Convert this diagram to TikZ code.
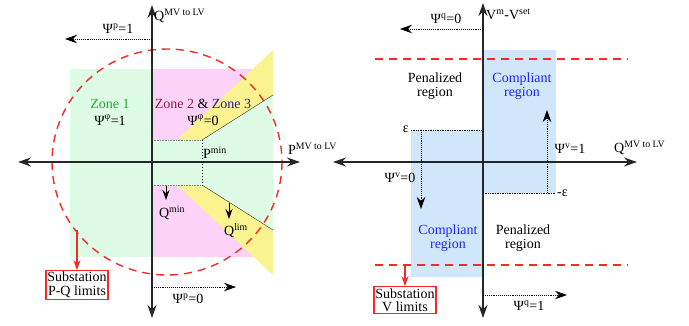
\documentclass[tikz,border=0pt]{standalone}
\usepackage{fontspec}
\setmainfont{Liberation Serif}
\usetikzlibrary{arrows.meta}
\definecolor{verde}{HTML}{DDFBE5}
\definecolor{rosa}{HTML}{FDD2F9}
\definecolor{amarillo}{HTML}{FBF290}
\definecolor{celeste}{HTML}{D0E7FB}
\definecolor{zonaverde}{HTML}{1FA82F}
\definecolor{zonarojo}{HTML}{8E1D45}
\definecolor{zonaazul}{HTML}{2B1B8F}
\definecolor{azulreg}{HTML}{2424F2}
\definecolor{rojolim}{HTML}{F22A2A}
\newcommand{\sps}[1]{\textsuperscript{#1}}

\begin{document}
\begin{tikzpicture}[x=1pt,y=-1pt,font=\fontsize{14}{14}\selectfont,
    axis/.style={line width=1.3pt,black!85,{Stealth[length=13pt,width=9pt]}-{Stealth[length=13pt,width=9pt]}},
    flag/.style={densely dotted,line width=0.9pt,-{Stealth[length=12pt,width=8.5pt]}},
    small/.style={line width=1pt,-{Stealth[length=10pt,width=7pt]}},
    lim/.style={rojolim,line width=1.4pt,dash pattern=on 8pt off 6pt},
    limbox/.style={draw=rojolim,line width=1.2pt,align=center,inner sep=1.5pt,font=\fontsize{14}{13.5}\selectfont},
    lbl/.style={align=center,inner sep=1pt,font=\fontsize{14}{14}\selectfont}]
  \useasboundingbox (0,0) rectangle (689,325);
  % left: P-Q plane
  \fill[verde] (70,69) rectangle (273,257);
  \fill[rosa] (152,69) rectangle (253,257);
  \fill[verde] (152,140) -- (202,140) -- (273,95) -- (273,230) -- (202,185) -- (152,185) -- cycle;
  \fill[amarillo] (177,140) -- (273,50) -- (273,95) -- (202,140) -- cycle;
  \fill[amarillo] (177,185) -- (202,185) -- (273,230) -- (273,275) -- cycle;
  \draw[black!50,densely dotted,line width=0.6pt] (152,140) -- (202,140) (152,185) -- (202,185);
  \draw[black!70,line width=0.5pt] (202,140) -- (273,95) (202,185) -- (273,230);
  \draw[dotted,line width=1pt] (202,140) -- (202,185);
  \draw[lim] (167,162) circle[x radius=115,y radius=113];
  \draw[axis] (18,162) -- (300,162);
  \draw[axis] (152,5) -- (152,318);
  \node[anchor=west,inner sep=0pt] (qaxis) at (154,16) {Q\sps{MV to LV}};
  \node[anchor=west,inner sep=0pt] (paxis) at (288,149) {P\sps{MV to LV}};
  \coordinate (pq1a) at (152,39);
  \coordinate (pq1b) at (65,39);
  \coordinate (pq0a) at (152,287);
  \coordinate (pq0b) at (236,287);
  \draw[flag] (pq1a) -- (pq1b);
  \draw[flag] (pq0a) -- (pq0b);
  \node (pq1) at (118,29) {Ψ\sps{p}=1};
  \node (pq0) at (188,299) {Ψ\sps{p}=0};
  \node[lbl] (zona1) at (110,112) {\textcolor{zonaverde}{Zone 1}\\[3pt]Ψ\sps{φ}=1};
  \node[lbl] (zona23) at (203,112) {\textcolor{zonarojo}{Zone 2} \& \textcolor{zonaazul}{Zone 3}\\[3pt]Ψ\sps{φ}=0};
  \node[anchor=west,inner sep=1pt] (pmin) at (202,153) {P\sps{min}};
  \coordinate (qmina) at (166,186);
  \coordinate (qlima) at (229,203);
  \node (qmin) at (172,213) {Q\sps{min}};
  \node (qlim) at (236,231) {Q\sps{lim}};
  \draw[small] (qmina) -- (166,200);
  \draw[small] (qlima) -- (229,219);
  \node[limbox] (pqbox) at (77,285) {Substation\\P-Q limits};
  \coordinate (pqcirc) at (77,230);
  \draw[rojolim,line width=1.1pt,-{Stealth[length=10pt,width=7pt]}] (pqcirc) -- (pqbox.north);
  % right: V-Q plane
  \fill[celeste] (483,50) rectangle (556,193);
  \fill[celeste] (411,130) rectangle (483,277);
  \draw[lim] (375,59) -- (628,59);
  \draw[lim] (375,265) -- (628,265);
  \draw[densely dotted,line width=0.7pt] (411,130) -- (483,130) (483,193) -- (556,193);
  \draw[axis] (333,162) -- (637,162);
  \draw[axis] (483,3) -- (483,318);
  \node[anchor=west,inner sep=0pt] (vaxis) at (486,14) {V\sps{m}-V\sps{set}};
  \node[anchor=west,inner sep=0pt] (qaxisr) at (614,148) {Q\sps{MV to LV}};
  \node[anchor=east,inner sep=1pt] (eps) at (410,129) {ε};
  \node[anchor=west,inner sep=1pt] (meps) at (556,193) {-ε};
  \coordinate (vq0a) at (483,29);
  \coordinate (vq1a) at (483,295);
  \draw[flag] (vq0a) -- (400,29);
  \draw[flag] (vq1a) -- (567,295);
  \node (vq0) at (446,19) {Ψ\sps{q}=0};
  \node (vq1) at (529,306) {Ψ\sps{q}=1};
  \coordinate (vv0a) at (421,130);
  \coordinate (vv1a) at (547,193);
  \draw[flag] (vv0a) -- (421,209);
  \draw[flag] (vv1a) -- (547,110);
  \node (vv0) at (400,178) {Ψ\sps{v}=0};
  \node (vv1) at (570,149) {Ψ\sps{v}=1};
  \node[lbl] (pen1) at (435,86) {Penalized\\region};
  \node[lbl,text=azulreg] (comp1) at (522,86) {Compliant\\region};
  \node[lbl,text=azulreg] (comp2) at (448,238) {Compliant\\region};
  \node[lbl] (pen2) at (523,238) {Penalized\\region};
  \node[limbox] (vbox) at (405,300) {Substation\\V limits};
  \coordinate (vlim) at (405,265);
  \draw[rojolim,line width=1.1pt,-{Stealth[length=10pt,width=7pt]}] (vlim) -- (vbox.north);
\end{tikzpicture}
\end{document}
